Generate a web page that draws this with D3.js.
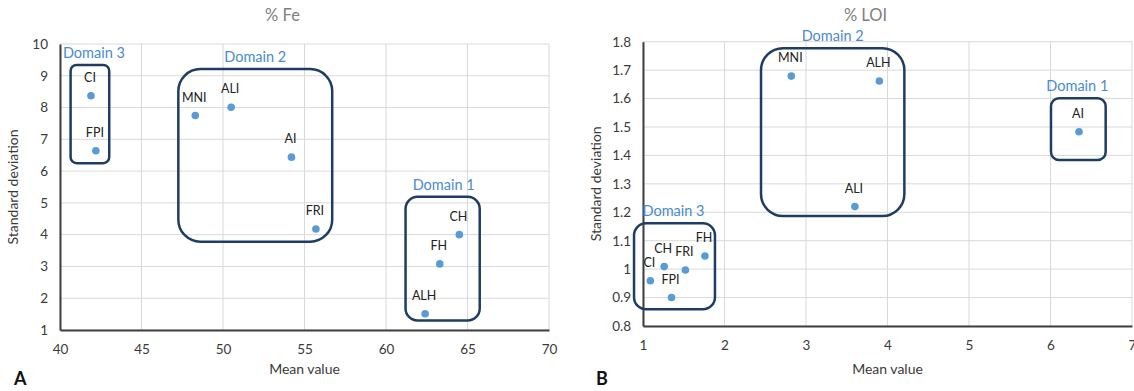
<!DOCTYPE html>
<html>
<head>
<meta charset="utf-8">
<script src="https://cdn.jsdelivr.net/npm/d3@7"></script>
<style>
  html, body { margin: 0; padding: 0; background: #fff; }
  svg { display: block; }
  text { font-family: Lato, "Open Sans", sans-serif; }
</style>
</head>
<body>
<svg id="chart" width="1134" height="391"></svg>
<script>
// ---- Panel A: % Fe ----
const feLabels = ["CI", "FPI", "MNI", "ALI", "AI", "FRI", "CH", "FH", "ALH"];
const feMean   = [41.9, 42.2, 48.3, 50.5, 54.2, 55.7, 64.5, 63.3, 62.4];
const feStd    = [8.37, 6.64, 7.75, 8.01, 6.44, 4.18, 4.00, 3.08, 1.51];
const feXTicks = [40, 45, 50, 55, 60, 65, 70];
const feYTicks = [1, 2, 3, 4, 5, 6, 7, 8, 9, 10];
const feDomainNames = ["Domain 1", "Domain 2", "Domain 3"];
// grouping extents in data units: [xMin, xMax, yMin, yMax]
const feDomainExtents = [
  [61.2, 65.75, 1.3, 5.19],
  [47.26, 56.7, 3.78, 9.21],
  [40.65, 43.02, 6.25, 9.34]
];

// ---- Panel B: % LOI ----
const loiLabels = ["MNI", "ALH", "AI", "ALI", "CI", "CH", "FRI", "FH", "FPI"];
const loiMean   = [2.82, 3.90, 6.35, 3.60, 1.09, 1.26, 1.52, 1.76, 1.35];
const loiStd    = [1.679, 1.662, 1.483, 1.220, 0.959, 1.009, 0.997, 1.046, 0.900];
const loiXTicks = [1, 2, 3, 4, 5, 6, 7];
const loiYTicks = [0.8, 0.9, 1, 1.1, 1.2, 1.3, 1.4, 1.5, 1.6, 1.7, 1.8];
const loiDomainNames = ["Domain 1", "Domain 2", "Domain 3"];
const loiDomainExtents = [
  [6.006, 6.677, 1.384, 1.601],
  [2.448, 4.207, 1.187, 1.777],
  [0.89, 1.883, 0.859, 1.161]
];

const svg = d3.select("#chart");
const POINT = "#5b9bd5";
const BOX = "#1f3d63";
const DOMAIN_TXT = "#4a8bd0";
const GRID = "#d9d9d9";
const AXIS = "#3f3f3f";
const TICK_TXT = "#3a3a3a";

function panel(opt) {
  const g = svg.append("g");
  const x = d3.scaleLinear().domain(opt.xDomain).range(opt.xRange);
  const y = d3.scaleLinear().domain(opt.yDomain).range(opt.yRange);

  // gridlines
  g.append("g").selectAll("line").data(opt.xTicks).join("line")
    .attr("x1", d => x(d)).attr("x2", d => x(d))
    .attr("y1", opt.yRange[0]).attr("y2", opt.yRange[1])
    .attr("stroke", GRID).attr("stroke-width", 1);
  g.append("g").selectAll("line").data(opt.yTicks).join("line")
    .attr("x1", opt.xRange[0]).attr("x2", opt.xRange[1])
    .attr("y1", d => y(d)).attr("y2", d => y(d))
    .attr("stroke", GRID).attr("stroke-width", 1);

  // axes (line + labels, no tick marks)
  const xAxis = d3.axisBottom(x).tickValues(opt.xTicks).tickSize(0).tickPadding(14)
    .tickFormat(d3.format("d"));
  const gx = g.append("g").attr("transform", `translate(0,${opt.yRange[0]})`).call(xAxis);
  gx.select(".domain").attr("stroke", AXIS).attr("stroke-width", 2);
  gx.selectAll("text").attr("fill", TICK_TXT).style("font-size", "13.5px")
    .style("font-family", "Lato, sans-serif");

  const yAxis = d3.axisLeft(y).tickValues(opt.yTicks).tickSize(0).tickPadding(12)
    .tickFormat(opt.yFormat);
  const gy = g.append("g").attr("transform", `translate(${opt.xRange[0]},0)`).call(yAxis);
  gy.select(".domain").attr("stroke", AXIS).attr("stroke-width", 2);
  gy.selectAll("text").attr("fill", TICK_TXT).style("font-size", "13.5px")
    .style("font-family", "Lato, sans-serif");

  // domain groupings
  opt.extents.forEach((e, i) => {
    const x0 = x(e[0]), x1 = x(e[1]), y0 = y(e[3]), y1 = y(e[2]);
    g.append("rect")
      .attr("x", x0).attr("y", y0).attr("width", x1 - x0).attr("height", y1 - y0)
      .attr("rx", opt.radii[i]).attr("ry", opt.radii[i])
      .attr("fill", "none").attr("stroke", BOX).attr("stroke-width", 2.5);
    g.append("text")
      .attr("x", (x0 + x1) / 2 + opt.nameDx[i]).attr("y", y0 - 7)
      .attr("text-anchor", "middle")
      .attr("fill", DOMAIN_TXT).style("font-size", "14.5px")
      .text(opt.names[i]);
  });

  // points and labels
  const pts = opt.labels.map((l, i) => ({ l, m: opt.mean[i], s: opt.std[i] }));
  g.append("g").selectAll("circle").data(pts).join("circle")
    .attr("cx", d => x(d.m)).attr("cy", d => y(d.s)).attr("r", 3.8)
    .attr("fill", POINT);
  g.append("g").selectAll("text").data(pts).join("text")
    .attr("x", d => x(d.m) - 1).attr("y", d => y(d.s) - 14)
    .attr("text-anchor", "middle").attr("fill", "#222")
    .style("font-size", "12.5px")
    .text(d => d.l);

  // titles
  const cx = (opt.xRange[0] + opt.xRange[1]) / 2;
  g.append("text").attr("x", cx - 22).attr("y", 21).attr("text-anchor", "middle")
    .attr("fill", "#808080").style("font-size", "16.5px").text(opt.title);
  g.append("text").attr("x", cx).attr("y", 374).attr("text-anchor", "middle")
    .attr("fill", TICK_TXT).style("font-size", "14px").text("Mean value");
  g.append("text")
    .attr("transform", `translate(${opt.xRange[0] - 42},${(opt.yRange[0] + opt.yRange[1]) / 2}) rotate(-90)`)
    .attr("text-anchor", "middle").attr("fill", TICK_TXT).style("font-size", "14px")
    .text("Standard deviation");
  g.append("text").attr("x", opt.letterX).attr("y", 385)
    .attr("fill", "#111").style("font-size", "18px").style("font-weight", "bold")
    .text(opt.letter);
}

panel({
  xDomain: [40, 70], xRange: [60, 549],
  yDomain: [1, 10], yRange: [330, 44],
  xTicks: feXTicks, yTicks: feYTicks, yFormat: d3.format("d"),
  labels: feLabels, mean: feMean, std: feStd,
  names: feDomainNames, extents: feDomainExtents,
  radii: [12, 22, 6], nameDx: [1, 0, 4],
  title: "% Fe", letter: "A", letterX: 14
});

panel({
  xDomain: [1, 7], xRange: [643, 1132],
  yDomain: [0.8, 1.8], yRange: [326, 41.7],
  xTicks: loiXTicks, yTicks: loiYTicks, yFormat: d => d3.format("~g")(d),
  labels: loiLabels, mean: loiMean, std: loiStd,
  names: loiDomainNames, extents: loiDomainExtents,
  radii: [8, 22, 12], nameDx: [-1, 0, -1],
  title: "% LOI", letter: "B", letterX: 596
});
</script>
</body>
</html>
